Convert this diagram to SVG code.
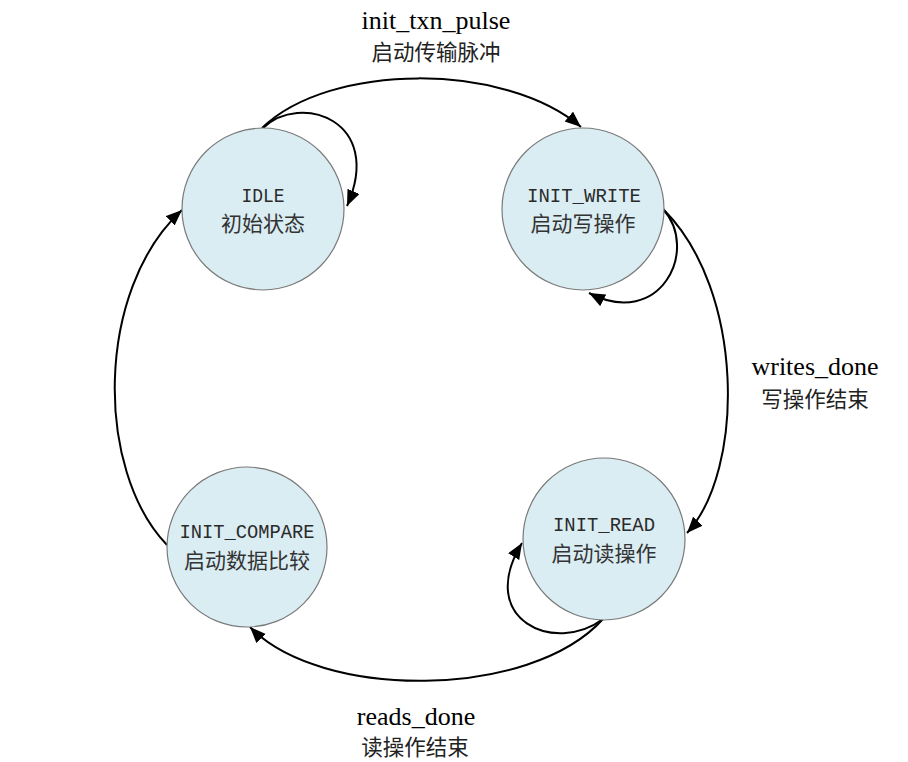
<svg xmlns="http://www.w3.org/2000/svg" width="908" height="762" viewBox="0 0 908 762">
<style>
.node{fill:#daedf3;stroke:#7a7a7a;stroke-width:1.2}
.en{font-family:"Liberation Mono",monospace;font-size:20px;fill:#2a2a2a;text-anchor:middle}
.cn{font-family:"Noto Sans CJK SC",sans-serif;font-size:21px;fill:#333;text-anchor:middle}
.lbl{font-family:"Liberation Serif",serif;font-size:26px;fill:#000;text-anchor:middle}
.lcn{font-family:"Noto Sans CJK SC",sans-serif;font-size:21.5px;fill:#222;text-anchor:middle}
.edge{fill:none;stroke:#000;stroke-width:2;marker-end:url(#arr)}
</style>
<defs>
<marker id="arr" markerUnits="userSpaceOnUse" markerWidth="18" markerHeight="14" refX="16" refY="6.5" orient="auto">
<path d="M0,0 L16,6.5 L0,13 z" fill="#000"/>
</marker>
</defs>
<rect width="908" height="762" fill="#fff"/>
<g id="connectors">
<path class="edge" d="M262,128 C330,62 505,62 581,127"/>
<path class="edge" d="M663,209 C745,290 745,470 687,533"/>
<path class="edge" d="M603,619 C530,700 320,700 250,627"/>
<path class="edge" d="M167,545 C95,470 95,290 182,210"/>
<path class="edge" d="M263,128 C300,92 385,120 347,206"/>
<path class="edge" d="M663,209 C700,250 660,330 589,293"/>
<path class="edge" d="M603,619 C555,655 475,620 522,543"/>
</g>
<g id="node-idle">
<circle class="node" cx="263" cy="209" r="81"/>
<text class="en" x="263" y="202" textLength="43" lengthAdjust="spacingAndGlyphs">IDLE</text>
<text class="cn" x="263" y="231">初始状态</text>
</g>
<g id="node-init-write">
<circle class="node" cx="583" cy="209" r="81"/>
<text class="en" x="584" y="202" textLength="114" lengthAdjust="spacingAndGlyphs">INIT_WRITE</text>
<text class="cn" x="583" y="231">启动写操作</text>
</g>
<g id="node-init-read">
<circle class="node" cx="604" cy="539" r="81"/>
<text class="en" x="604" y="531" textLength="102" lengthAdjust="spacingAndGlyphs">INIT_READ</text>
<text class="cn" x="604" y="561">启动读操作</text>
</g>
<g id="node-init-compare">
<circle class="node" cx="247" cy="547" r="80"/>
<text class="en" x="247" y="538" textLength="135" lengthAdjust="spacingAndGlyphs">INIT_COMPARE</text>
<text class="cn" x="247" y="568">启动数据比较</text>
</g>
<g id="labels">
<text class="lbl" x="436" y="29">init_txn_pulse</text>
<text class="lcn" x="436" y="60">启动传输脉冲</text>
<text class="lbl" x="815" y="375">writes_done</text>
<text class="lcn" x="815" y="407">写操作结束</text>
<text class="lbl" x="416" y="725">reads_done</text>
<text class="lcn" x="415" y="755">读操作结束</text>
</g>
</svg>
